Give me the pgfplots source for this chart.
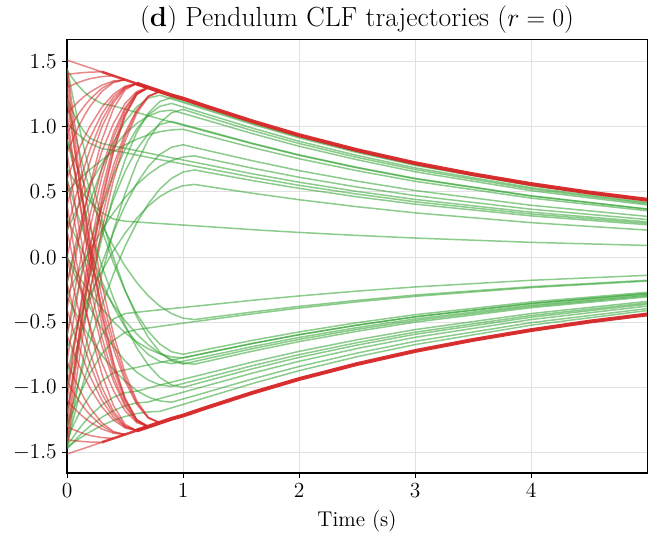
\documentclass[border=0pt]{standalone}
\usepackage{pgfplots}
\pgfplotsset{compat=1.18}
\definecolor{tabred}{RGB}{214,39,40}
\definecolor{tabgreen}{RGB}{44,160,44}
\definecolor{gridgray}{RGB}{225,225,225}
\begin{document}
\begin{tikzpicture}
\useasboundingbox (-44.7bp,-41.3bp) rectangle (391.3bp,315.3bp);
\begin{axis}[
  name=ax,
  at={(0,0)}, anchor=south west,
  scale only axis, width=386.7bp, height=288.7bp,
  xmin=0, xmax=5, ymin=-1.655, ymax=1.665,
  xtick={0,1,2,3,4}, ytick={-1.5,-1,-0.5,0,0.5,1,1.5},
  yticklabel style={/pgf/number format/.cd, fixed, fixed zerofill, precision=1},
  xticklabel style={/pgf/number format/.cd, fixed, precision=0},
  tick label style={font=\fontsize{14.5}{16}\selectfont},
  tick align=outside, tick pos=left, major tick length=3.4bp,
  every tick/.style={black, line width=0.6bp},
  axis line style={black, line width=0.8bp},
  grid=major, major grid style={gridgray, line width=0.6bp},
  xlabel={Time (s)}, xlabel style={font=\fontsize{14.3}{16}\selectfont, yshift=-2bp},
  g/.style={tabgreen, draw opacity=0.55, line width=1.0bp},
  r/.style={tabred, draw opacity=0.55, line width=1.0bp},
]
% ---------------- green trajectories (upper) ----------------
\addplot[g] coordinates {(0,-1.2)(0.05,-0.938)(0.1,-0.691)(0.15,-0.46)(0.2,-0.243)(0.3,0.146)(0.4,0.475)(0.5,0.745)(0.6,0.954)(0.7,1.103)(0.8,1.193)(0.9,1.223)(1.2,1.139)(1.6,1.026)(2,0.922)(2.5,0.809)(3,0.71)(4,0.552)(5,0.434)};
\addplot[g] coordinates {(0,-0.6)(0.05,-0.408)(0.1,-0.227)(0.15,-0.057)(0.2,0.103)(0.3,0.388)(0.4,0.629)(0.5,0.827)(0.6,0.981)(0.7,1.09)(0.8,1.156)(0.9,1.178)(1.2,1.097)(1.6,0.988)(2,0.888)(2.5,0.779)(3,0.684)(4,0.532)(5,0.418)};
\addplot[g] coordinates {(0,-1.45)(0.05,-1.198)(0.1,-0.959)(0.15,-0.734)(0.2,-0.521)(0.3,-0.133)(0.4,0.203)(0.5,0.487)(0.6,0.719)(0.7,0.9)(0.8,1.029)(0.9,1.106)(1,1.132)(1.2,1.076)(1.6,0.969)(2,0.871)(2.5,0.764)(3,0.671)(4,0.522)(5,0.41)};
\addplot[g] coordinates {(0,0.2)(0.05,0.3)(0.1,0.395)(0.15,0.483)(0.2,0.566)(0.3,0.715)(0.4,0.841)(0.5,0.944)(0.6,1.024)(0.7,1.081)(0.8,1.116)(0.9,1.127)(1.2,1.05)(1.6,0.946)(2,0.85)(2.5,0.746)(3,0.654)(4,0.509)(5,0.4)};
\addplot[g] coordinates {(0,1.43)(0.05,1.367)(0.1,1.311)(0.15,1.265)(0.2,1.227)(0.3,1.176)(0.4,1.159)(0.8,1.059)(1.2,0.963)(1.6,0.868)(2,0.78)(2.5,0.684)(3,0.6)(4,0.467)(5,0.367)};
\addplot[g] coordinates {(0,-0.9)(0.05,-0.691)(0.1,-0.493)(0.15,-0.307)(0.2,-0.134)(0.3,0.178)(0.4,0.441)(0.5,0.657)(0.6,0.825)(0.7,0.944)(0.8,1.016)(0.9,1.04)(1.2,0.969)(1.6,0.872)(2,0.784)(2.5,0.688)(3,0.604)(4,0.47)(5,0.369)};
\addplot[g] coordinates {(0,0.5)(0.05,0.547)(0.1,0.591)(0.15,0.633)(0.2,0.673)(0.3,0.745)(0.4,0.807)(0.5,0.86)(0.6,0.903)(0.7,0.937)(0.8,0.961)(0.9,0.975)(1,0.98)(1.2,0.932)(1.6,0.839)(2,0.754)(2.5,0.662)(3,0.581)(4,0.452)(5,0.355)};
\addplot[g] coordinates {(0,-1)(0.05,-0.819)(0.1,-0.646)(0.15,-0.484)(0.2,-0.33)(0.3,-0.051)(0.4,0.191)(0.5,0.396)(0.6,0.563)(0.7,0.694)(0.8,0.787)(0.9,0.842)(1,0.861)(1.2,0.819)(1.6,0.738)(2,0.663)(2.5,0.582)(3,0.51)(4,0.397)(5,0.312)};
\addplot[g] coordinates {(0,-0.3)(0.05,-0.205)(0.1,-0.113)(0.15,-0.027)(0.2,0.056)(0.3,0.207)(0.4,0.34)(0.5,0.456)(0.6,0.554)(0.7,0.634)(0.8,0.696)(0.9,0.74)(1,0.767)(1.1,0.776)(1.2,0.756)(1.6,0.681)(2,0.612)(2.5,0.537)(3,0.471)(4,0.367)(5,0.288)};
\addplot[g] coordinates {(0,1.22)(0.05,1.113)(0.1,1.026)(0.15,0.958)(0.2,0.91)(0.3,0.871)(0.8,0.779)(1.2,0.709)(1.6,0.638)(2,0.574)(2.5,0.503)(3,0.442)(4,0.344)(5,0.27)};
\addplot[g] coordinates {(0,1.03)(0.05,0.98)(0.1,0.937)(0.15,0.901)(0.2,0.871)(0.3,0.831)(0.4,0.818)(0.8,0.747)(1.2,0.68)(1.6,0.612)(2,0.55)(2.5,0.483)(3,0.424)(4,0.33)(5,0.259)};
\addplot[g] coordinates {(0,-1.3)(0.05,-1.125)(0.1,-0.958)(0.15,-0.8)(0.2,-0.649)(0.3,-0.373)(0.4,-0.129)(0.5,0.083)(0.6,0.261)(0.7,0.408)(0.8,0.522)(0.9,0.603)(1,0.652)(1.1,0.668)(1.2,0.651)(1.6,0.586)(2,0.527)(2.5,0.462)(3,0.406)(4,0.316)(5,0.248)};
\addplot[g] coordinates {(0,-0.7)(0.05,-0.588)(0.1,-0.482)(0.15,-0.381)(0.2,-0.284)(0.3,-0.108)(0.4,0.048)(0.5,0.183)(0.6,0.297)(0.7,0.391)(0.8,0.464)(0.9,0.515)(1,0.547)(1.1,0.557)(1.2,0.543)(1.6,0.489)(2,0.44)(2.5,0.386)(3,0.339)(4,0.264)(5,0.207)};
\addplot[g] coordinates {(0,0.68)(0.05,0.603)(0.1,0.534)(0.15,0.473)(0.2,0.421)(0.3,0.34)(0.4,0.291)(0.5,0.275)(0.8,0.257)(1.2,0.234)(1.6,0.21)(2,0.189)(2.5,0.166)(3,0.146)(4,0.113)(5,0.089)};
\addplot[g] coordinates {(0,-0.2)(0.05,-0.026)(0.1,0.138)(0.15,0.29)(0.2,0.43)(0.3,0.678)(0.4,0.881)(0.5,1.038)(0.6,1.151)(0.7,1.219)(0.8,1.241)(1.2,1.129)(1.6,1.017)(2,0.914)(2.5,0.802)(3,0.703)(4,0.547)(5,0.43)};
% ---------------- green trajectories (lower) ----------------
\addplot[g] coordinates {(0,-1.45)(0.05,-1.257)(0.1,-1.084)(0.15,-0.931)(0.2,-0.799)(0.3,-0.596)(0.4,-0.474)(0.5,-0.433)(0.8,-0.404)(1.2,-0.368)(1.6,-0.331)(2,-0.298)(2.5,-0.261)(3,-0.229)(4,-0.178)(5,-0.14)};
\addplot[g] coordinates {(0,0.9)(0.05,0.778)(0.1,0.661)(0.15,0.55)(0.2,0.444)(0.3,0.25)(0.4,0.08)(0.5,-0.069)(0.6,-0.194)(0.7,-0.297)(0.8,-0.376)(0.9,-0.433)(1,-0.468)(1.1,-0.479)(1.2,-0.467)(1.6,-0.421)(2,-0.378)(2.5,-0.332)(3,-0.291)(4,-0.227)(5,-0.178)};
\addplot[g] coordinates {(0,-1.3)(0.05,-1.181)(0.1,-1.073)(0.15,-0.975)(0.2,-0.887)(0.3,-0.742)(0.4,-0.639)(0.5,-0.577)(0.6,-0.556)(0.8,-0.531)(1.2,-0.483)(1.6,-0.435)(2,-0.391)(2.5,-0.343)(3,-0.301)(4,-0.234)(5,-0.184)};
\addplot[g] coordinates {(0,1.2)(0.05,1.01)(0.1,0.831)(0.15,0.66)(0.2,0.5)(0.3,0.208)(0.4,-0.045)(0.5,-0.259)(0.6,-0.434)(0.7,-0.57)(0.8,-0.667)(0.9,-0.726)(1,-0.745)(1.2,-0.709)(1.6,-0.638)(2,-0.574)(2.5,-0.503)(3,-0.442)(4,-0.344)(5,-0.27)};
\addplot[g] coordinates {(0,-1.4)(0.05,-1.298)(0.1,-1.207)(0.15,-1.127)(0.2,-1.058)(0.3,-0.951)(0.4,-0.886)(0.5,-0.865)(0.8,-0.808)(1.2,-0.735)(1.6,-0.662)(2,-0.595)(2.5,-0.522)(3,-0.458)(4,-0.356)(5,-0.28)};
\addplot[g] coordinates {(0,0.6)(0.05,0.447)(0.1,0.303)(0.15,0.167)(0.2,0.04)(0.3,-0.187)(0.4,-0.38)(0.5,-0.537)(0.6,-0.66)(0.7,-0.747)(0.8,-0.8)(0.9,-0.817)(1.2,-0.761)(1.6,-0.686)(2,-0.616)(2.5,-0.541)(3,-0.474)(4,-0.369)(5,-0.29)};
\addplot[g] coordinates {(0,1.45)(0.05,1.229)(0.1,1.019)(0.15,0.82)(0.2,0.633)(0.3,0.292)(0.4,-0.003)(0.5,-0.253)(0.6,-0.457)(0.7,-0.616)(0.8,-0.729)(0.9,-0.797)(1,-0.82)(1.2,-0.78)(1.6,-0.702)(2,-0.631)(2.5,-0.554)(3,-0.486)(4,-0.378)(5,-0.297)};
\addplot[g] coordinates {(0,0.3)(0.05,0.201)(0.1,0.105)(0.15,0.015)(0.2,-0.071)(0.3,-0.228)(0.4,-0.367)(0.5,-0.488)(0.6,-0.589)(0.7,-0.673)(0.8,-0.738)(0.9,-0.784)(1,-0.812)(1.1,-0.821)(1.2,-0.801)(1.6,-0.721)(2,-0.648)(2.5,-0.569)(3,-0.499)(4,-0.388)(5,-0.305)};
\addplot[g] coordinates {(0,-1.45)(0.05,-1.383)(0.1,-1.321)(0.15,-1.265)(0.2,-1.216)(0.3,-1.134)(0.4,-1.075)(0.5,-1.04)(0.6,-1.028)(0.8,-0.981)(1.2,-0.893)(1.6,-0.804)(2,-0.723)(2.5,-0.634)(3,-0.556)(4,-0.433)(5,-0.34)};
\addplot[g] coordinates {(0,0)(0.05,-0.107)(0.1,-0.208)(0.15,-0.303)(0.2,-0.392)(0.3,-0.551)(0.4,-0.686)(0.5,-0.796)(0.6,-0.882)(0.7,-0.943)(0.8,-0.98)(0.9,-0.992)(1.2,-0.924)(1.6,-0.832)(2,-0.748)(2.5,-0.656)(3,-0.576)(4,-0.448)(5,-0.352)};
\addplot[g] coordinates {(0,0.9)(0.05,0.715)(0.1,0.539)(0.15,0.373)(0.2,0.216)(0.3,-0.069)(0.4,-0.315)(0.5,-0.524)(0.6,-0.695)(0.7,-0.828)(0.8,-0.923)(0.9,-0.98)(1,-0.999)(1.2,-0.95)(1.6,-0.856)(2,-0.769)(2.5,-0.675)(3,-0.592)(4,-0.461)(5,-0.362)};
\addplot[g] coordinates {(0,-1.47)(0.05,-1.421)(0.1,-1.375)(0.15,-1.333)(0.2,-1.294)(0.3,-1.228)(0.4,-1.177)(0.5,-1.14)(0.6,-1.118)(0.7,-1.111)(0.8,-1.085)(1.2,-0.987)(1.6,-0.889)(2,-0.799)(2.5,-0.701)(3,-0.615)(4,-0.479)(5,-0.376)};
\addplot[g] coordinates {(0,-0.3)(0.05,-0.388)(0.1,-0.471)(0.15,-0.549)(0.2,-0.621)(0.3,-0.752)(0.4,-0.862)(0.5,-0.952)(0.6,-1.023)(0.7,-1.073)(0.8,-1.103)(0.9,-1.113)(1.2,-1.037)(1.6,-0.934)(2,-0.839)(2.5,-0.736)(3,-0.646)(4,-0.503)(5,-0.395)};
\addplot[g] coordinates {(0,-1.46)(0.05,-1.427)(0.1,-1.395)(0.15,-1.366)(0.2,-1.339)(0.3,-1.291)(0.4,-1.252)(0.5,-1.222)(0.6,-1.2)(0.7,-1.187)(0.8,-1.183)(1.2,-1.076)(1.6,-0.969)(2,-0.871)(2.5,-0.764)(3,-0.671)(4,-0.522)(5,-0.41)};
\addplot[g] coordinates {(0,0)(0.05,-0.075)(0.1,-0.147)(0.15,-0.215)(0.2,-0.278)(0.3,-0.394)(0.4,-0.495)(0.5,-0.58)(0.6,-0.649)(0.7,-0.703)(0.8,-0.742)(0.9,-0.765)(1,-0.773)(1.2,-0.735)(1.6,-0.662)(2,-0.595)(2.5,-0.522)(3,-0.458)(4,-0.356)(5,-0.28)};
% ---------------- red trajectories (upper) ----------------
\addplot[r] coordinates {(0,1.4)(0.05,1.406)(0.1,1.411)(0.15,1.415)(0.2,1.418)(0.3,1.42)};
\addplot[r] coordinates {(0,1.3)(0.05,1.321)(0.1,1.339)(0.15,1.355)(0.2,1.368)(0.3,1.384)(0.4,1.39)};
\addplot[r] coordinates {(0,1.1)(0.05,1.149)(0.1,1.194)(0.15,1.233)(0.2,1.266)(0.3,1.318)(0.4,1.35)(0.5,1.36)};
\addplot[r] coordinates {(0,0.8)(0.05,0.906)(0.1,1.002)(0.15,1.086)(0.2,1.158)(0.3,1.27)(0.4,1.338)(0.5,1.36)};
\addplot[r] coordinates {(0,0.95)(0.05,1.028)(0.1,1.098)(0.15,1.159)(0.2,1.212)(0.3,1.294)(0.4,1.344)(0.5,1.36)};
\addplot[r] coordinates {(0,0.6)(0.05,0.717)(0.1,0.823)(0.15,0.919)(0.2,1.006)(0.3,1.148)(0.4,1.249)(0.5,1.31)(0.6,1.33)};
\addplot[r] coordinates {(0,0.4)(0.05,0.549)(0.1,0.684)(0.15,0.807)(0.2,0.917)(0.3,1.098)(0.4,1.227)(0.5,1.304)(0.6,1.33)};
\addplot[r] coordinates {(0,0.2)(0.05,0.381)(0.1,0.545)(0.15,0.694)(0.2,0.828)(0.3,1.048)(0.4,1.204)(0.5,1.299)(0.6,1.33)};
\addplot[r] coordinates {(0,0)(0.05,0.212)(0.1,0.406)(0.15,0.582)(0.2,0.739)(0.3,0.998)(0.4,1.182)(0.5,1.293)(0.6,1.33)};
\addplot[r] coordinates {(0,-0.2)(0.05,0.007)(0.1,0.198)(0.15,0.374)(0.2,0.535)(0.3,0.81)(0.4,1.024)(0.5,1.178)(0.6,1.269)(0.7,1.3)};
\addplot[r] coordinates {(0,-0.4)(0.05,-0.124)(0.1,0.129)(0.15,0.357)(0.2,0.561)(0.3,0.898)(0.4,1.138)(0.5,1.282)(0.6,1.33)};
\addplot[r] coordinates {(0,-0.6)(0.05,-0.338)(0.1,-0.096)(0.15,0.127)(0.2,0.331)(0.3,0.68)(0.4,0.951)(0.5,1.145)(0.6,1.261)(0.7,1.3)};
\addplot[r] coordinates {(0,-0.8)(0.05,-0.511)(0.1,-0.243)(0.15,0.004)(0.2,0.229)(0.3,0.614)(0.4,0.914)(0.5,1.129)(0.6,1.257)(0.7,1.3)};
\addplot[r] coordinates {(0,-1)(0.05,-0.725)(0.1,-0.468)(0.15,-0.229)(0.2,-0.007)(0.3,0.383)(0.4,0.703)(0.5,0.951)(0.6,1.128)(0.7,1.235)(0.8,1.27)};
\addplot[r] coordinates {(0,-1.1)(0.05,-0.769)(0.1,-0.463)(0.15,-0.182)(0.2,0.076)(0.3,0.516)(0.4,0.859)(0.5,1.104)(0.6,1.251)(0.7,1.3)};
\addplot[r] coordinates {(0,-1.3)(0.05,-0.942)(0.1,-0.61)(0.15,-0.305)(0.2,-0.027)(0.3,0.451)(0.4,0.822)(0.5,1.088)(0.6,1.247)(0.7,1.3)};
\addplot[r] coordinates {(0,-1.4)(0.05,-1.028)(0.1,-0.684)(0.15,-0.367)(0.2,-0.078)(0.3,0.418)(0.4,0.804)(0.5,1.08)(0.6,1.245)(0.7,1.3)};
\addplot[r] coordinates {(0,-1.2)(0.05,-0.901)(0.1,-0.621)(0.15,-0.361)(0.2,-0.119)(0.3,0.305)(0.4,0.653)(0.5,0.923)(0.6,1.116)(0.7,1.232)(0.8,1.27)};
\addplot[r] coordinates {(0,-1.45)(0.05,-1.121)(0.1,-0.812)(0.15,-0.526)(0.2,-0.26)(0.3,0.208)(0.4,0.59)(0.5,0.888)(0.6,1.1)(0.7,1.228)(0.8,1.27)};
% ---------------- red trajectories (lower) ----------------
\addplot[r] coordinates {(0,-1.4)(0.05,-1.406)(0.1,-1.411)(0.15,-1.415)(0.2,-1.418)(0.3,-1.42)};
\addplot[r] coordinates {(0,-1.3)(0.05,-1.321)(0.1,-1.339)(0.15,-1.355)(0.2,-1.368)(0.3,-1.384)(0.4,-1.39)};
\addplot[r] coordinates {(0,-1.1)(0.05,-1.149)(0.1,-1.194)(0.15,-1.233)(0.2,-1.266)(0.3,-1.318)(0.4,-1.35)(0.5,-1.36)};
\addplot[r] coordinates {(0,-0.8)(0.05,-0.906)(0.1,-1.002)(0.15,-1.086)(0.2,-1.158)(0.3,-1.27)(0.4,-1.338)(0.5,-1.36)};
\addplot[r] coordinates {(0,-0.95)(0.05,-1.028)(0.1,-1.098)(0.15,-1.159)(0.2,-1.212)(0.3,-1.294)(0.4,-1.344)(0.5,-1.36)};
\addplot[r] coordinates {(0,-0.6)(0.05,-0.717)(0.1,-0.823)(0.15,-0.919)(0.2,-1.006)(0.3,-1.148)(0.4,-1.249)(0.5,-1.31)(0.6,-1.33)};
\addplot[r] coordinates {(0,-0.4)(0.05,-0.549)(0.1,-0.684)(0.15,-0.807)(0.2,-0.917)(0.3,-1.098)(0.4,-1.227)(0.5,-1.304)(0.6,-1.33)};
\addplot[r] coordinates {(0,-0.2)(0.05,-0.381)(0.1,-0.545)(0.15,-0.694)(0.2,-0.828)(0.3,-1.048)(0.4,-1.204)(0.5,-1.299)(0.6,-1.33)};
\addplot[r] coordinates {(0,0)(0.05,-0.212)(0.1,-0.406)(0.15,-0.582)(0.2,-0.739)(0.3,-0.998)(0.4,-1.182)(0.5,-1.293)(0.6,-1.33)};
\addplot[r] coordinates {(0,0.2)(0.05,-0.007)(0.1,-0.198)(0.15,-0.374)(0.2,-0.535)(0.3,-0.81)(0.4,-1.024)(0.5,-1.178)(0.6,-1.269)(0.7,-1.3)};
\addplot[r] coordinates {(0,0.4)(0.05,0.124)(0.1,-0.129)(0.15,-0.357)(0.2,-0.561)(0.3,-0.898)(0.4,-1.138)(0.5,-1.282)(0.6,-1.33)};
\addplot[r] coordinates {(0,0.6)(0.05,0.338)(0.1,0.096)(0.15,-0.127)(0.2,-0.331)(0.3,-0.68)(0.4,-0.951)(0.5,-1.145)(0.6,-1.261)(0.7,-1.3)};
\addplot[r] coordinates {(0,0.8)(0.05,0.511)(0.1,0.243)(0.15,-0.004)(0.2,-0.229)(0.3,-0.614)(0.4,-0.914)(0.5,-1.129)(0.6,-1.257)(0.7,-1.3)};
\addplot[r] coordinates {(0,1)(0.05,0.725)(0.1,0.468)(0.15,0.229)(0.2,0.007)(0.3,-0.383)(0.4,-0.703)(0.5,-0.951)(0.6,-1.128)(0.7,-1.235)(0.8,-1.27)};
\addplot[r] coordinates {(0,1.1)(0.05,0.769)(0.1,0.463)(0.15,0.182)(0.2,-0.076)(0.3,-0.516)(0.4,-0.859)(0.5,-1.104)(0.6,-1.251)(0.7,-1.3)};
\addplot[r] coordinates {(0,1.3)(0.05,0.942)(0.1,0.61)(0.15,0.305)(0.2,0.027)(0.3,-0.451)(0.4,-0.822)(0.5,-1.088)(0.6,-1.247)(0.7,-1.3)};
\addplot[r] coordinates {(0,1.4)(0.05,1.028)(0.1,0.684)(0.15,0.367)(0.2,0.078)(0.3,-0.418)(0.4,-0.804)(0.5,-1.08)(0.6,-1.245)(0.7,-1.3)};
\addplot[r] coordinates {(0,1.2)(0.05,0.901)(0.1,0.621)(0.15,0.361)(0.2,0.119)(0.3,-0.305)(0.4,-0.653)(0.5,-0.923)(0.6,-1.116)(0.7,-1.232)(0.8,-1.27)};
\addplot[r] coordinates {(0,1.45)(0.05,1.121)(0.1,0.812)(0.15,0.526)(0.2,0.26)(0.3,-0.208)(0.4,-0.59)(0.5,-0.888)(0.6,-1.1)(0.7,-1.228)(0.8,-1.27)};
% ---------------- red envelopes ----------------
\addplot[r] coordinates {(0,1.51)(0.1,1.48)(0.2,1.45)(0.3,1.42)(0.4,1.39)(0.5,1.36)(0.6,1.33)(0.7,1.3)(0.8,1.27)(0.9,1.24)(1,1.215)(1.2,1.155)(1.6,1.04)(2,0.935)(2.5,0.82)(3,0.72)(3.5,0.635)(4,0.56)(4.5,0.495)(5,0.44)};
\addplot[tabred, line width=1.7bp, draw opacity=0.8] coordinates {(0.3,1.42)(0.4,1.39)(0.5,1.36)(0.6,1.33)(0.7,1.3)};
\addplot[tabred, line width=2.6bp, draw opacity=0.95] coordinates {(0.6,1.33)(0.7,1.3)(0.8,1.27)(0.9,1.24)(1,1.215)(1.2,1.155)(1.6,1.04)(2,0.935)(2.5,0.82)(3,0.72)(3.5,0.635)(4,0.56)(4.5,0.495)(5,0.44)};
\addplot[r] coordinates {(0,-1.51)(0.1,-1.48)(0.2,-1.45)(0.3,-1.42)(0.4,-1.39)(0.5,-1.36)(0.6,-1.33)(0.7,-1.3)(0.8,-1.27)(0.9,-1.24)(1,-1.215)(1.2,-1.155)(1.6,-1.04)(2,-0.935)(2.5,-0.82)(3,-0.72)(3.5,-0.635)(4,-0.56)(4.5,-0.495)(5,-0.44)};
\addplot[tabred, line width=1.7bp, draw opacity=0.8] coordinates {(0.3,-1.42)(0.4,-1.39)(0.5,-1.36)(0.6,-1.33)(0.7,-1.3)};
\addplot[tabred, line width=2.6bp, draw opacity=0.95] coordinates {(0.6,-1.33)(0.7,-1.3)(0.8,-1.27)(0.9,-1.24)(1,-1.215)(1.2,-1.155)(1.6,-1.04)(2,-0.935)(2.5,-0.82)(3,-0.72)(3.5,-0.635)(4,-0.56)(4.5,-0.495)(5,-0.44)};
\end{axis}
\node[anchor=base, inner sep=0pt, font=\fontsize{18.5}{22}\selectfont] at ([yshift=8.7bp]ax.north) {(\textbf{d}) Pendulum CLF trajectories ($r=0$)};
\end{tikzpicture}
\end{document}
